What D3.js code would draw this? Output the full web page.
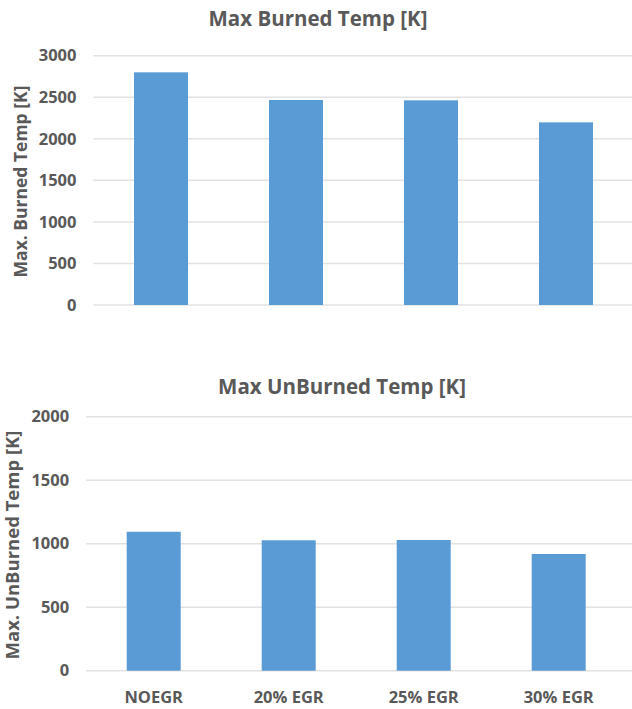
<!DOCTYPE html>
<html>
<head>
<meta charset="utf-8">
<script src="https://cdn.jsdelivr.net/npm/d3@7"></script>
<style>
  html, body { margin: 0; padding: 0; background: #fff; }
  svg text { font-family: "Open Sans", "Liberation Sans", sans-serif; font-weight: bold; fill: #595959; }
</style>
</head>
<body>
<svg id="chart" width="632" height="709"></svg>
<script>
// Engine cases
const categories = ["NOEGR", "20% EGR", "25% EGR", "30% EGR"];
// Peak burned-zone temperature [K]
const burnedTemp = [2800, 2467, 2463, 2198];
// Peak unburned-zone temperature [K]
const unburnedTemp = [1094, 1027, 1029, 919];
// Value-axis ticks
const burnedTicks = [0, 500, 1000, 1500, 2000, 2500, 3000];
const unburnedTicks = [0, 500, 1000, 1500, 2000];

const svg = d3.select("#chart");
const barColor = "#5b9bd5";
const gridColor = "#e2e2e2";

function panel(opts) {
  const g = svg.append("g");
  const x = d3.scaleBand()
    .domain(categories)
    .range([opts.left, opts.left + 540])
    .paddingInner(0.6)
    .paddingOuter(0.3);
  const y = d3.scaleLinear()
    .domain([0, opts.max])
    .range([opts.bottom, opts.top]);

  // horizontal gridlines
  g.append("g").selectAll("line")
    .data(opts.ticks)
    .join("line")
    .attr("x1", opts.left)
    .attr("x2", 632)
    .attr("y1", d => y(d))
    .attr("y2", d => y(d))
    .attr("stroke", gridColor)
    .attr("stroke-width", 1.5);

  // value labels
  g.append("g").selectAll("text")
    .data(opts.ticks)
    .join("text")
    .attr("x", opts.left - 17)
    .attr("y", d => y(d))
    .attr("dy", "0.35em")
    .attr("text-anchor", "end")
    .style("font-size", "16.5px")
    .text(d => d);

  // bars
  g.append("g").selectAll("rect")
    .data(opts.values)
    .join("rect")
    .attr("x", (d, i) => x(categories[i]))
    .attr("width", x.bandwidth())
    .attr("y", d => y(d))
    .attr("height", d => y(0) - y(d))
    .attr("fill", barColor);

  // chart title
  g.append("text")
    .attr("x", opts.titleX)
    .attr("y", opts.titleY)
    .attr("text-anchor", "middle")
    .style("font-size", "20.5px")
    .text(opts.title);

  // value-axis title
  g.append("text")
    .attr("transform", `translate(${opts.axisTitleX},${opts.axisTitleY}) rotate(-90)`)
    .attr("text-anchor", "middle")
    .style("font-size", opts.axisTitleSize)
    .text(opts.axisTitle);

  if (opts.showCategories) {
    g.append("g").selectAll("text")
      .data(categories)
      .join("text")
      .attr("x", d => x(d) + x.bandwidth() / 2)
      .attr("y", 703)
      .attr("text-anchor", "middle")
      .style("font-size", "16.5px")
      .text(d => d);
  }
}

panel({
  values: burnedTemp, ticks: burnedTicks, max: 3000,
  left: 93.5, top: 55.7, bottom: 305,
  title: "Max Burned Temp [K]", titleX: 318, titleY: 26,
  axisTitle: "Max. Burned Temp [K]", axisTitleX: 27, axisTitleY: 181.5, axisTitleSize: "17.5px",
  showCategories: false
});

panel({
  values: unburnedTemp, ticks: unburnedTicks, max: 2000,
  left: 86.2, top: 416.7, bottom: 670.7,
  title: "Max UnBurned Temp [K]", titleX: 342, titleY: 394,
  axisTitle: "Max. UnBurned Temp [K]", axisTitleX: 19, axisTitleY: 545, axisTitleSize: "18.5px",
  showCategories: true
});
</script>
</body>
</html>
